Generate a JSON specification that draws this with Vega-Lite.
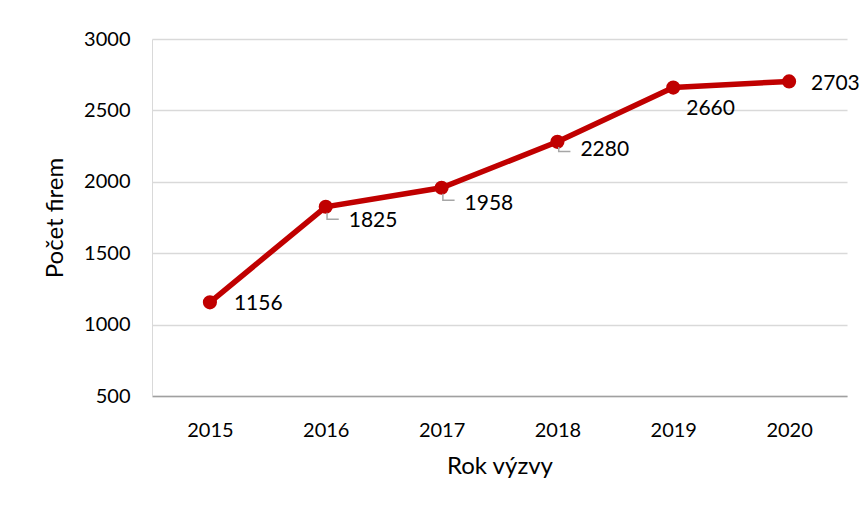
{
  "$schema": "https://vega.github.io/schema/vega-lite/v6.json",
  "width": 695,
  "height": 357,
  "autosize": "none",
  "padding": {"left": 152, "top": 39, "right": 20, "bottom": 114},
  "background": "white",
  "config": {
    "font": "Lato",
    "view": {"stroke": null},
    "axis": {"labelFont": "Lato", "titleFont": "Lato", "labelColor": "#000000", "titleColor": "#000000", "titleFontWeight": "normal"}
  },
  "data": {"values": [
    {"rok": "2015", "pocet": 1156},
    {"rok": "2016", "pocet": 1825},
    {"rok": "2017", "pocet": 1958},
    {"rok": "2018", "pocet": 2280},
    {"rok": "2019", "pocet": 2660},
    {"rok": "2020", "pocet": 2703}
  ]},
  "encoding": {
    "x": {"field": "rok", "type": "ordinal", "scale": {"type": "point", "padding": 0.5},
      "axis": {"title": "Rok výzvy", "labelAngle": 0, "labelFontSize": 20, "titleFontSize": 24, "labelPadding": 24, "titlePadding": 14, "ticks": false, "domainColor": "#a0a0a0", "domainWidth": 1.5, "grid": false}},
    "y": {"field": "pocet", "type": "quantitative", "scale": {"domain": [500, 3000], "nice": false, "zero": false},
      "axis": {"title": "Počet firem", "format": "d", "values": [500, 1000, 1500, 2000, 2500, 3000], "labelFontSize": 20, "titleFontSize": 24, "labelPadding": 22, "titlePadding": 16, "ticks": false, "domainColor": "#d9d9d9", "gridColor": "#d9d9d9", "gridWidth": 1.5}}
  },
  "layer": [
    {"mark": {"type": "line", "color": "#c00000", "strokeWidth": 5.5}},
    {"mark": {"type": "point", "filled": true, "color": "#c00000", "opacity": 1, "size": 200}},
    {"transform": [{"filter": "datum.rok == '2016' || datum.rok == '2017'"}],
      "mark": {"type": "point", "filled": false, "stroke": "#a6a6a6", "strokeWidth": 1.5, "opacity": 1, "size": 676, "shape": "M0.1,0.45 L0.1,0.95 L1,0.95"}},
    {"transform": [{"filter": "datum.rok == '2018'"}],
      "mark": {"type": "point", "filled": false, "stroke": "#a6a6a6", "strokeWidth": 1.5, "opacity": 1, "size": 676, "shape": "M0.1,0.4 L0.1,0.75 L1,0.75"}},
    {"transform": [{"filter": "datum.rok == '2015'"}],
      "mark": {"type": "text", "align": "left", "baseline": "middle", "fontSize": 21, "dx": 24, "dy": 2},
      "encoding": {"text": {"field": "pocet", "type": "quantitative"}}},
    {"transform": [{"filter": "datum.rok == '2016'"}],
      "mark": {"type": "text", "align": "left", "baseline": "middle", "fontSize": 21, "dx": 23, "dy": 14},
      "encoding": {"text": {"field": "pocet", "type": "quantitative"}}},
    {"transform": [{"filter": "datum.rok == '2017'"}],
      "mark": {"type": "text", "align": "left", "baseline": "middle", "fontSize": 21, "dx": 23, "dy": 16},
      "encoding": {"text": {"field": "pocet", "type": "quantitative"}}},
    {"transform": [{"filter": "datum.rok == '2018'"}],
      "mark": {"type": "text", "align": "left", "baseline": "middle", "fontSize": 21, "dx": 23, "dy": 8},
      "encoding": {"text": {"field": "pocet", "type": "quantitative"}}},
    {"transform": [{"filter": "datum.rok == '2019'"}],
      "mark": {"type": "text", "align": "left", "baseline": "middle", "fontSize": 21, "dx": 13, "dy": 21},
      "encoding": {"text": {"field": "pocet", "type": "quantitative"}}},
    {"transform": [{"filter": "datum.rok == '2020'"}],
      "mark": {"type": "text", "align": "left", "baseline": "middle", "fontSize": 21, "dx": 22, "dy": 3},
      "encoding": {"text": {"field": "pocet", "type": "quantitative"}}}
  ]
}
